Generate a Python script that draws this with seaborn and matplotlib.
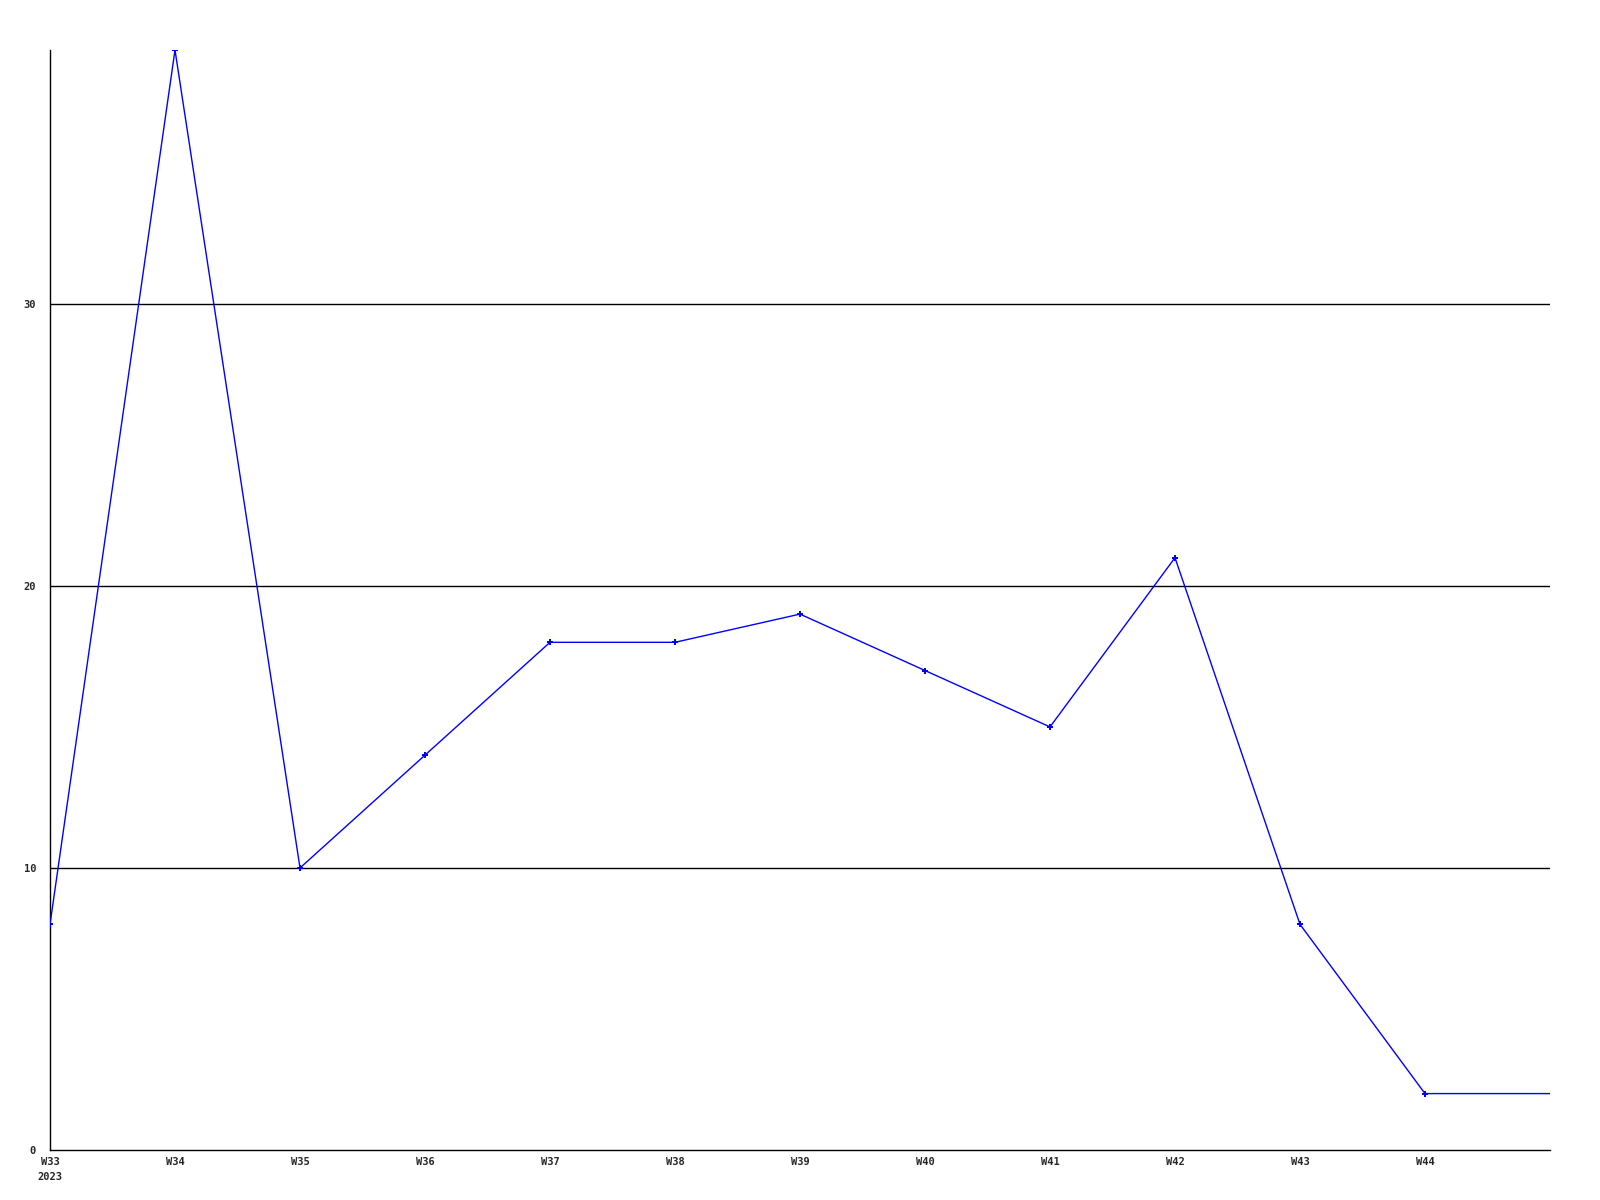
import pandas as pd
import numpy as np
import seaborn as sns
import matplotlib.pyplot as plt

weeks = ["W33", "W34", "W35", "W36", "W37", "W38", "W39", "W40", "W41", "W42", "W43", "W44", "W45"]
counts = [8, 39, 10, 14, 18, 18, 19, 17, 15, 21, 8, 2, 2]
tick_labels = ["W33\n2023", "W34", "W35", "W36", "W37", "W38", "W39", "W40", "W41", "W42", "W43", "W44"]
y_ticks = [0, 10, 20, 30]

df = pd.DataFrame({"idx": np.arange(len(weeks)), "week": weeks, "count": counts})

sns.set_style("white")
plt.rcParams['font.family'] = ['DejaVu Sans Mono']

fig = plt.figure(figsize=(16, 12), dpi=100)
ax = fig.add_axes([50 / 1600, 50 / 1200, 1500 / 1600, 1100 / 1200])

for v in y_ticks[1:]:
    ax.axhline(v, color="black", lw=1, zorder=1)

# last point sits on the right edge: line only, no marker
sns.lineplot(data=df, x="idx", y="count", ax=ax, color="#0000ff", lw=1,
             marker="P", markersize=4, markeredgewidth=0, zorder=3,
             markevery=list(range(len(weeks) - 1)))

ax.set_xlim(0, 12)
ax.set_ylim(0, 39)
ax.set_xticks(range(len(tick_labels)))
ax.set_xticklabels(tick_labels, fontsize=7.5, fontweight="bold", linespacing=1.6, va="top")
ax.set_yticks(y_ticks)
ax.set_yticklabels([str(v) for v in y_ticks], fontsize=7.5, fontweight="bold")
ax.tick_params(axis="both", length=0)
ax.tick_params(axis="y", pad=10)
ax.tick_params(axis="x", pad=5)
ax.set_xlabel("")
ax.set_ylabel("")
for s in ["top", "right"]:
    ax.spines[s].set_visible(False)
for s in ["left", "bottom"]:
    ax.spines[s].set_color("black")
    ax.spines[s].set_linewidth(1)

fig.savefig("out.png", dpi=100)
